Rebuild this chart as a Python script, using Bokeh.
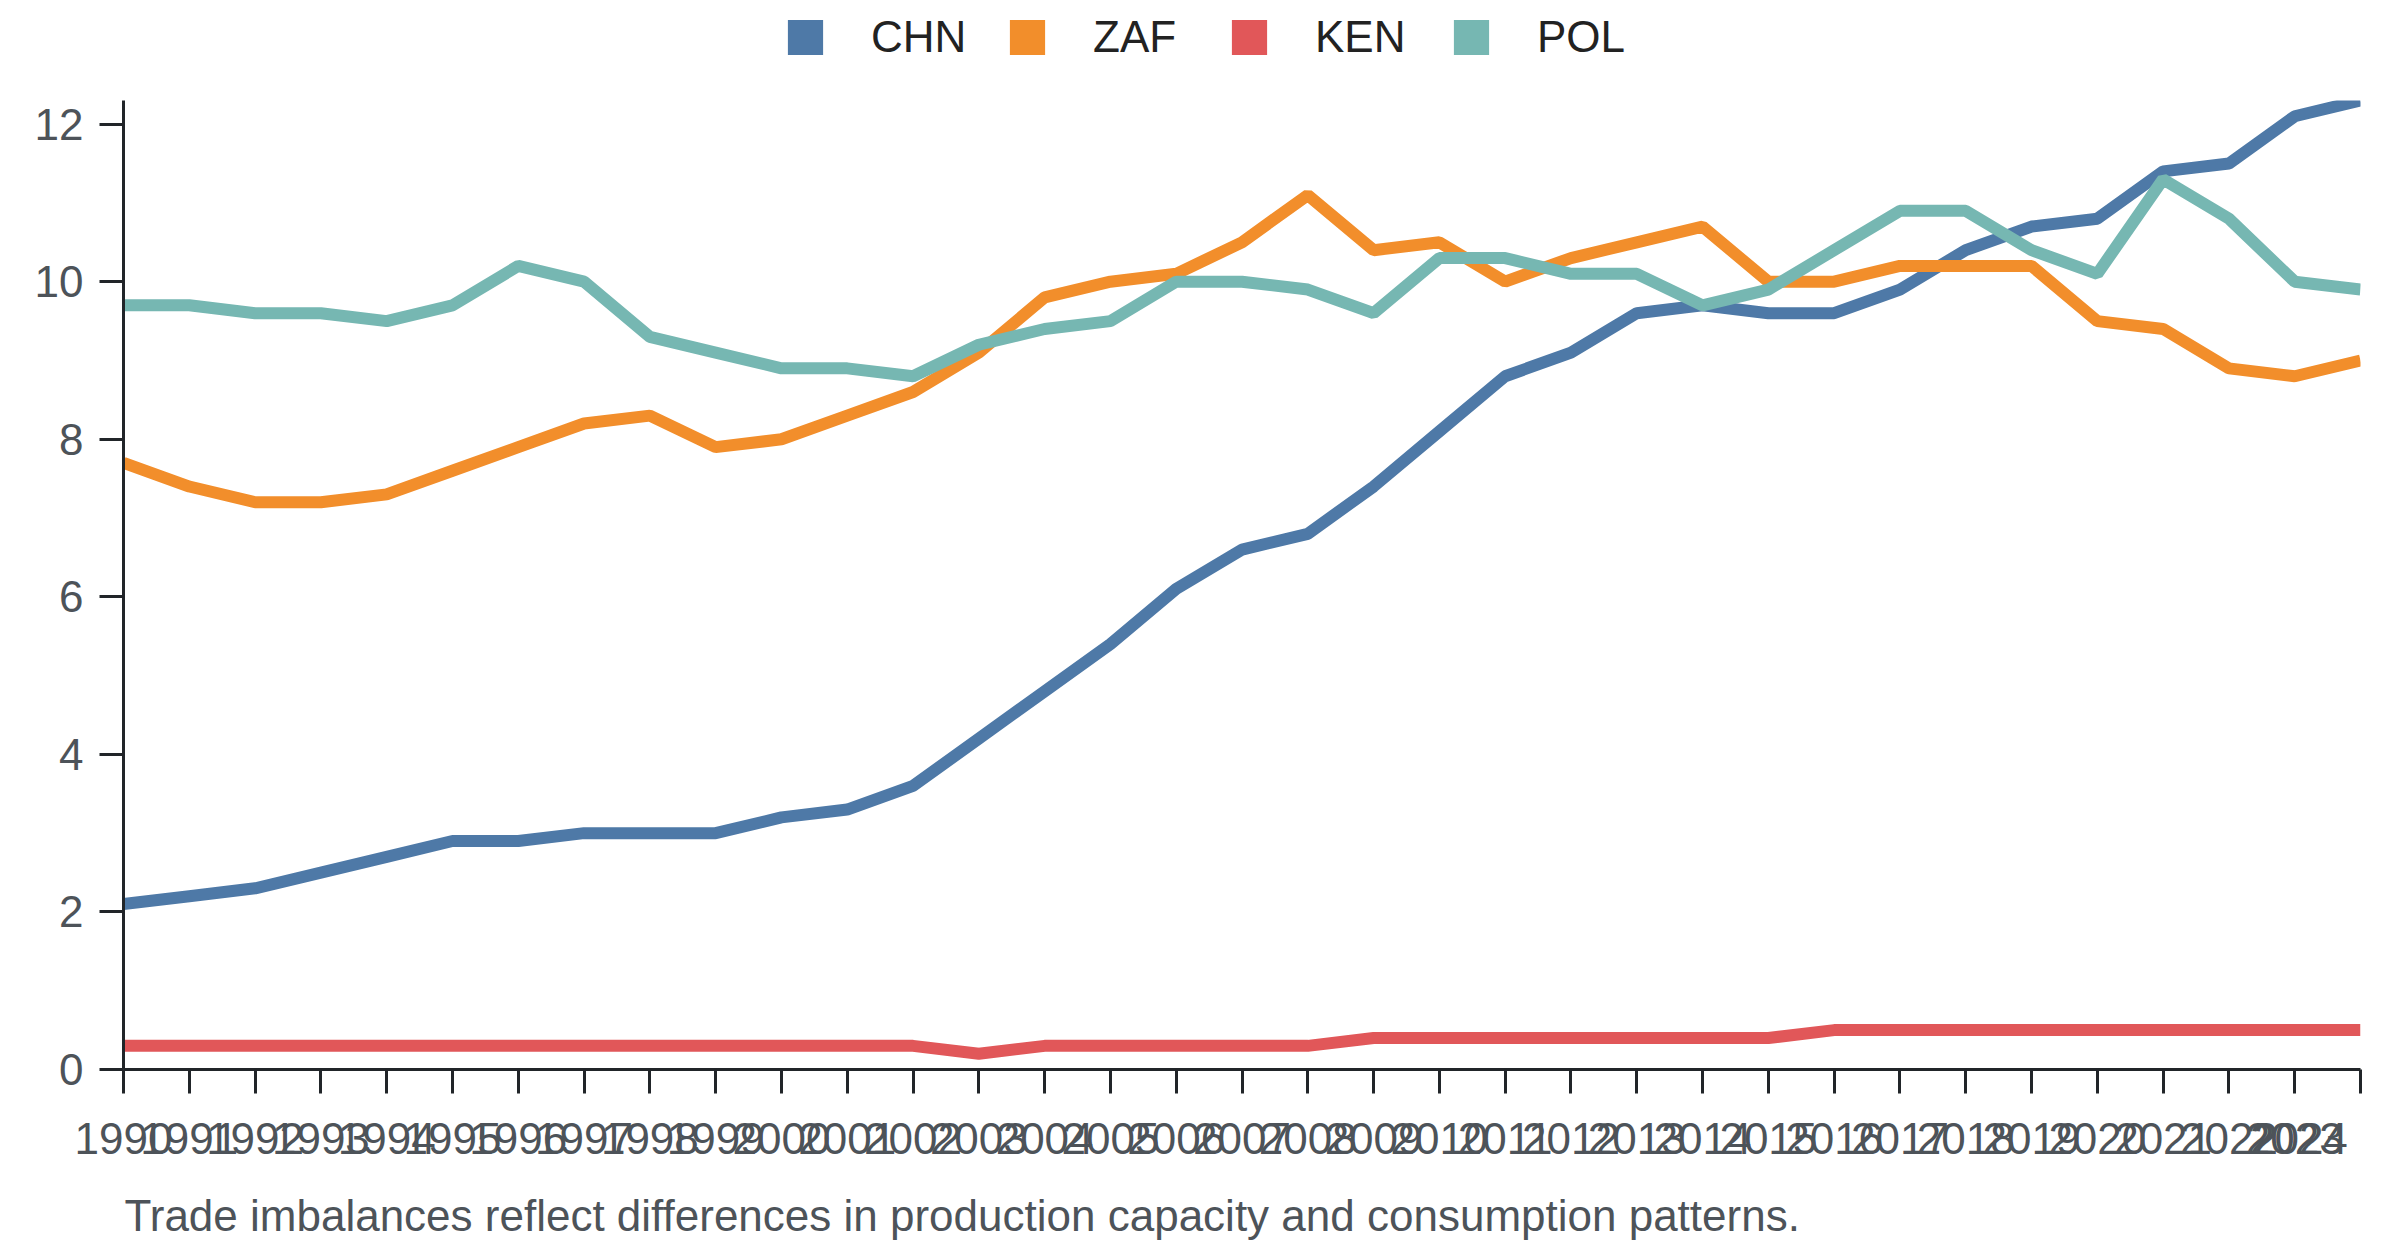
from bokeh.plotting import figure
from bokeh.models import Range1d, FixedTicker, Legend, LegendItem, Label
from bokeh.layouts import column
from bokeh.embed import file_html
from bokeh.resources import INLINE

years = list(range(1990, 2025))
chn = [2.1, 2.2, 2.3, 2.5, 2.7, 2.9, 2.9, 3.0, 3.0, 3.0, 3.2, 3.3, 3.6, 4.2, 4.8, 5.4, 6.1, 6.6, 6.8, 7.4,
       8.1, 8.8, 9.1, 9.6, 9.7, 9.6, 9.6, 9.9, 10.4, 10.7, 10.8, 11.4, 11.5, 12.1, 12.3]
zaf = [7.7, 7.4, 7.2, 7.2, 7.3, 7.6, 7.9, 8.2, 8.3, 7.9, 8.0, 8.3, 8.6, 9.1, 9.8, 10.0, 10.1, 10.5, 11.1, 10.4,
       10.5, 10.0, 10.3, 10.5, 10.7, 10.0, 10.0, 10.2, 10.2, 10.2, 9.5, 9.4, 8.9, 8.8, 9.0]
ken = [0.3, 0.3, 0.3, 0.3, 0.3, 0.3, 0.3, 0.3, 0.3, 0.3, 0.3, 0.3, 0.3, 0.2, 0.3, 0.3, 0.3, 0.3, 0.3, 0.4,
       0.4, 0.4, 0.4, 0.4, 0.4, 0.4, 0.5, 0.5, 0.5, 0.5, 0.5, 0.5, 0.5, 0.5, 0.5]
pol = [9.7, 9.7, 9.6, 9.6, 9.5, 9.7, 10.2, 10.0, 9.3, 9.1, 8.9, 8.9, 8.8, 9.2, 9.4, 9.5, 10.0, 10.0, 9.9, 9.6,
       10.3, 10.3, 10.1, 10.1, 9.7, 9.9, 10.4, 10.9, 10.9, 10.4, 10.1, 11.3, 10.8, 10.0, 9.9]
series_names = ["CHN", "ZAF", "KEN", "POL"]
series_values = [chn, zaf, ken, pol]
colors = ["#4e79a7", "#f28e2b", "#e15759", "#76b7b2"]
y_ticks = [0, 2, 4, 6, 8, 10, 12]
caption = "Trade imbalances reflect differences in production capacity and consumption patterns."

FONT = "Liberation Sans"
FS = "44px"
TICK_COLOR = "#4d5359"
AXIS_COLOR = "#212529"
NAN = float("nan")
W = 2384


def bare(fig):
    fig.outline_line_color = None
    fig.background_fill_color = "white"
    fig.border_fill_color = "white"
    return fig


# ---- legend strip -------------------------------------------------------
LEG_H = 100
leg_fig = bare(figure(width=W, height=LEG_H, output_backend="svg", toolbar_location=None,
                      x_range=Range1d(0, 1), y_range=Range1d(0, 1),
                      x_axis_location=None, y_axis_location=None, min_border=0))
leg_fig.grid.visible = False
items = []
for name, col in zip(series_names, colors):
    sw = leg_fig.quad(left=[NAN], right=[NAN], top=[NAN], bottom=[NAN], fill_color=col, line_color=None)
    items.append(LegendItem(label=name, renderers=[sw]))
legend = Legend(items=items, orientation="horizontal", location=(660, 38),
                glyph_width=44, glyph_height=44, label_standoff=44, label_width=100, spacing=34,
                padding=0, margin=0, border_line_color=None, background_fill_alpha=0,
                label_text_font=FONT, label_text_font_size=FS, label_text_color="#222222")
leg_fig.add_layout(legend, "center")

# ---- main chart ---------------------------------------------------------
p = bare(figure(width=W, height=1065, output_backend="svg", toolbar_location=None,
                x_range=Range1d(1990, 2024), y_range=Range1d(0, 12.3),
                min_border_left=123, min_border_right=24, min_border_top=0, min_border_bottom=93))
p.xgrid.visible = False
p.ygrid.visible = False

for name, vals, col in zip(series_names, series_values, colors):
    p.line(years, vals, line_color=col, line_width=12)

for ax in (p.xaxis[0], p.yaxis[0]):
    ax.axis_line_color = AXIS_COLOR
    ax.axis_line_width = 3
    ax.major_tick_line_color = AXIS_COLOR
    ax.major_tick_line_width = 3
    ax.major_tick_out = 24
    ax.major_tick_in = 0
    ax.minor_tick_line_color = None
    ax.major_label_text_font = FONT
    ax.major_label_text_font_size = FS
    ax.major_label_text_color = TICK_COLOR

xax = p.xaxis[0]
xax.ticker = FixedTicker(ticks=years)
xax.major_label_standoff = 20
# keep the last year label inside the canvas (shifted left like the reference)
xax.major_label_overrides = {2024: "2024" + "\u00a0" * 3}
p.yaxis.ticker = FixedTicker(ticks=y_ticks)
p.yaxis.major_label_standoff = 16

# ---- caption strip ------------------------------------------------------
CAP_H = 75
cap_fig = bare(figure(width=W, height=CAP_H, output_backend="svg", toolbar_location=None,
                      x_range=Range1d(0, 1), y_range=Range1d(0, 1),
                      x_axis_location=None, y_axis_location=None, min_border=0))
cap_fig.grid.visible = False
cap_fig.add_layout(Label(x=1, y=25, x_units="screen", y_units="screen", text=caption,
                         text_align="left", text_baseline="alphabetic",
                         text_font=FONT, text_font_size=FS, text_color=TICK_COLOR))

layout = column(leg_fig, p, cap_fig, spacing=0)
open("out.html", "w").write(file_html(layout, INLINE))
